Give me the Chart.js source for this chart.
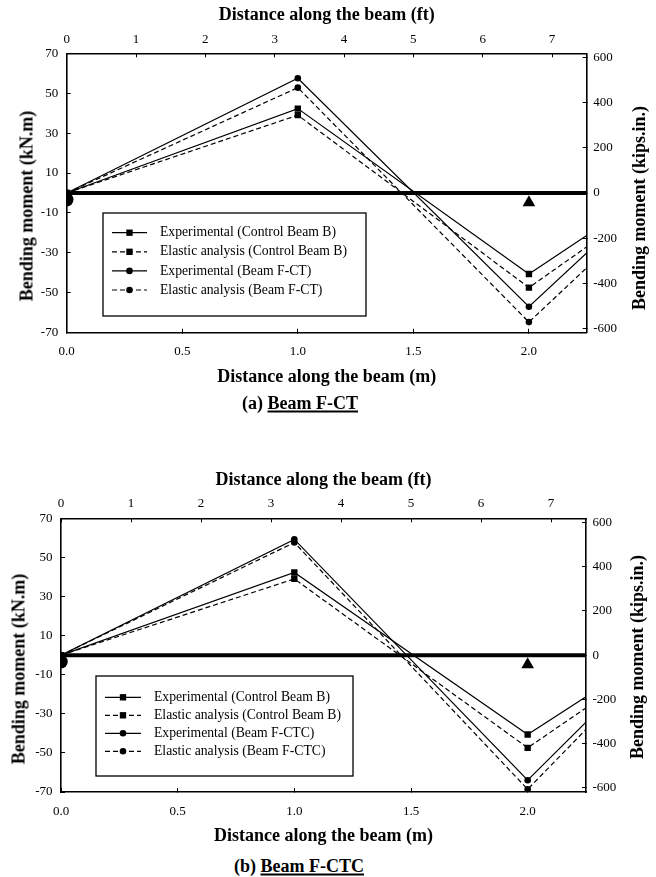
<!DOCTYPE html>
<html><head><meta charset="utf-8">
<script src="https://cdn.jsdelivr.net/npm/chart.js@4.4.1/dist/chart.umd.min.js"></script>
<style>
html,body{margin:0;padding:0;background:#fff;}
body{width:656px;height:877px;position:relative;overflow:hidden;font-family:"Liberation Serif","Times New Roman",serif;color:#000;}
.wrap{position:absolute;left:0;width:656px;}
canvas{display:block;}
.cap{position:absolute;font-weight:bold;font-size:18px;white-space:nowrap;transform:translate(-50%,-50%);}
.cap u{text-decoration:underline;text-decoration-thickness:1.5px;text-underline-offset:2px;}
.vtitle{position:absolute;font-weight:bold;font-size:18px;white-space:nowrap;transform:translate(-50%,-50%) rotate(-90deg);}
</style></head><body>
<div class="wrap" style="top:0px"><canvas id="c1" width="656" height="393"></canvas></div>
<div class="wrap" style="top:465px"><canvas id="c2" width="656" height="390"></canvas></div>
<div class="vtitle" style="left:27px;top:206px">Bending moment (kN.m)</div>
<div class="vtitle" style="left:639px;top:208px">Bending moment (kips.in.)</div>
<div class="vtitle" style="left:19px;top:669px">Bending moment (kN.m)</div>
<div class="vtitle" style="left:637px;top:657px">Bending moment (kips.in.)</div>
<div class="cap" style="left:300px;top:403px">(a) <u>Beam F-CT</u></div>
<div class="cap" style="left:299px;top:866px">(b) <u>Beam F-CTC</u></div>
<script>
// ---------- data ----------
const distM = [0, 1.0, 2.0, 2.25];              // distance along the beam (m)
const expControlB  = [0, 42.3, -40.6, -21.3];   // kN.m
const elasControlB = [0, 39.0, -47.4, -27.0];
const expFCT   = [0, 57.5, -57.0, -30.0];
const elasFCT  = [0, 52.8, -64.7, -37.5];
const expFCTC  = [0, 59.2, -64.0, -34.3];
const elasFCTC = [0, 57.6, -68.6, -38.0];
const beamX = [0, 2.25];
const beamY = [0, 0];
const pinSupport = {x: 0, y: -3.3};
const rollerSupport = {x: 2.0, y: -4.8};
const mTicks = [0, 0.5, 1.0, 1.5, 2.0];
const ftTicks = [0, 1, 2, 3, 4, 5, 6, 7];
const kNmTicks = [-70, -50, -30, -10, 10, 30, 50, 70];
const kipTicks = [-600, -400, -200, 0, 200, 400, 600];
const labelsFCT = ['Experimental (Control Beam B)', 'Elastic analysis (Control Beam B)', 'Experimental (Beam F-CT)', 'Elastic analysis (Beam F-CT)'];
const labelsFCTC = ['Experimental (Control Beam B)', 'Elastic analysis (Control Beam B)', 'Experimental (Beam F-CTC)', 'Elastic analysis (Beam F-CTC)'];
const KNM_TO_KIPIN = 8.8507;
const X_MAX_M = 2.25, X_MAX_FT = 7.5, Y_MIN = -70, Y_MAX = 70;

const FONT = '"Liberation Serif", "Times New Roman", serif';

const boxLegend = {
  id: 'boxLegend',
  afterDraw(chart, args, o) {
    const ctx = chart.ctx;
    ctx.save();
    ctx.fillStyle = '#fff';
    ctx.fillRect(o.left, o.top, o.right - o.left, o.bottom - o.top);
    ctx.strokeStyle = '#000'; ctx.lineWidth = 1.3; ctx.setLineDash([]);
    ctx.strokeRect(o.left, o.top, o.right - o.left, o.bottom - o.top);
    const items = chart.data.datasets.filter(d => d.inLegend);
    items.forEach((d, i) => {
      const y = o.rowY + i * o.rowGap;
      ctx.beginPath();
      ctx.strokeStyle = '#000';
      ctx.lineWidth = d.borderWidth;
      ctx.setLineDash(d.borderDash || []);
      ctx.moveTo(o.sx1, y); ctx.lineTo(o.sx2, y); ctx.stroke();
      ctx.setLineDash([]);
      ctx.fillStyle = '#000';
      Chart.helpers.drawPoint(ctx, {pointStyle: d.pointStyle, radius: d.legendRadius, borderWidth: 0, rotation: 0}, (o.sx1 + o.sx2) / 2, y);
      ctx.font = '13.7px ' + FONT;
      ctx.textBaseline = 'middle'; ctx.textAlign = 'left';
      ctx.fillText(d.label, o.textX, y);
    });
    ctx.restore();
  }
};

function series(label, ys, dashed, style) {
  const r = style === 'rect' ? 4.5 : 3.3;
  return {
    label, inLegend: true,
    data: distM.map((x, i) => ({x, y: ys[i]})),
    borderColor: '#000', backgroundColor: '#000', borderWidth: 1.2,
    borderDash: dashed ? [5, 3] : [],
    pointStyle: style, legendRadius: r,
    pointRadius: distM.map((x, i) => i === distM.length - 1 ? 0 : r),
    pointBorderWidth: 0, tension: 0, order: 2
  };
}

function build(id, L, data, labels) {
  const tickFont = {family: FONT, size: 13};
  const titleFont = {family: FONT, size: 18, weight: 'bold'};
  const grid = {display: true, drawOnChartArea: false, drawTicks: true, tickLength: -4, color: '#000', lineWidth: 1};
  const border = {display: true, color: '#000', width: 1.6};
  const fixH = h => s => { s.height = h; s.paddingLeft = 0; s.paddingRight = 0; s.paddingTop = 0; s.paddingBottom = 0; };
  const fixW = w => s => { s.width = w; s.paddingLeft = 0; s.paddingRight = 0; s.paddingTop = 0; s.paddingBottom = 0; };
  const setTicks = arr => s => { s.ticks = arr.map(v => ({value: v})); };
  const datasets = [
    series(labels[0], data[0], false, 'rect'),
    series(labels[1], data[1], true, 'rect'),
    series(labels[2], data[2], false, 'circle'),
    series(labels[3], data[3], true, 'circle'),
    {label: 'beam', data: beamX.map((x, i) => ({x, y: beamY[i]})), borderColor: '#000', borderWidth: 4, pointRadius: 0, order: 3},
    {label: 'pin', type: 'scatter', data: [pinSupport], pointStyle: 'circle', pointRadius: 6.8, backgroundColor: '#000', borderWidth: 0, order: 1},
    {label: 'roller', type: 'scatter', data: [rollerSupport], pointStyle: 'triangle', pointRadius: 7.3, backgroundColor: '#000', borderWidth: 0, order: 1}
  ];
  return new Chart(document.getElementById(id), {
    type: 'line',
    data: {datasets},
    plugins: [boxLegend],
    options: {
      responsive: false, animation: false, devicePixelRatio: 1,
      layout: {padding: 0},
      plugins: {legend: {display: false}, tooltip: {enabled: false}, boxLegend: L.legend},
      scales: {
        x: {type: 'linear', position: 'bottom', min: 0, max: X_MAX_M,
          afterBuildTicks: setTicks(mTicks), afterFit: fixH(L.bottomH),
          ticks: {font: tickFont, color: '#000', padding: L.mPad, maxRotation: 0, autoSkip: false, callback: v => v.toFixed(1)},
          grid, border,
          title: {display: true, text: 'Distance along the beam (m)', font: titleFont, color: '#000', padding: {top: 0, bottom: L.mTitlePad}}},
        xft: {type: 'linear', position: 'top', min: 0, max: X_MAX_FT,
          afterBuildTicks: setTicks(ftTicks), afterFit: fixH(L.topH),
          ticks: {font: tickFont, color: '#000', padding: L.ftPad, maxRotation: 0, autoSkip: false},
          grid, border,
          title: {display: true, text: 'Distance along the beam (ft)', font: titleFont, color: '#000', padding: {top: L.ftTitlePad, bottom: 0}}},
        y: {type: 'linear', position: 'left', min: Y_MIN, max: Y_MAX,
          afterBuildTicks: setTicks(kNmTicks), afterFit: fixW(L.leftW),
          ticks: {font: tickFont, color: '#000', padding: 12.5, autoSkip: false},
          grid, border},
        y2: {type: 'linear', position: 'right', min: Y_MIN * KNM_TO_KIPIN, max: Y_MAX * KNM_TO_KIPIN,
          afterBuildTicks: setTicks(kipTicks), afterFit: fixW(L.rightW),
          ticks: {font: tickFont, color: '#000', padding: 10.5, autoSkip: false},
          grid, border}
      }
    }
  });
}

build('c1', {
  topH: 53.3, bottomH: 60.3, leftW: 66.7, rightW: 69.3,
  mPad: 14.8, mTitlePad: 5.2, ftPad: 9.5, ftTitlePad: 4.2,
  legend: {left: 103, top: 213, right: 366, bottom: 316, rowY: 232.7, rowGap: 19.1, sx1: 112, sx2: 147, textX: 160}
}, [expControlB, elasControlB, expFCT, elasFCT], labelsFCT);

build('c2', {
  topH: 53.3, bottomH: 63, leftW: 61, rightW: 70,
  mPad: 16, mTitlePad: 7.5, ftPad: 10.5, ftTitlePad: 4.2,
  legend: {left: 96, top: 211, right: 353, bottom: 311, rowY: 232.3, rowGap: 18, sx1: 105, sx2: 141, textX: 154}
}, [expControlB, elasControlB, expFCTC, elasFCTC], labelsFCTC);
</script>
</body></html>
